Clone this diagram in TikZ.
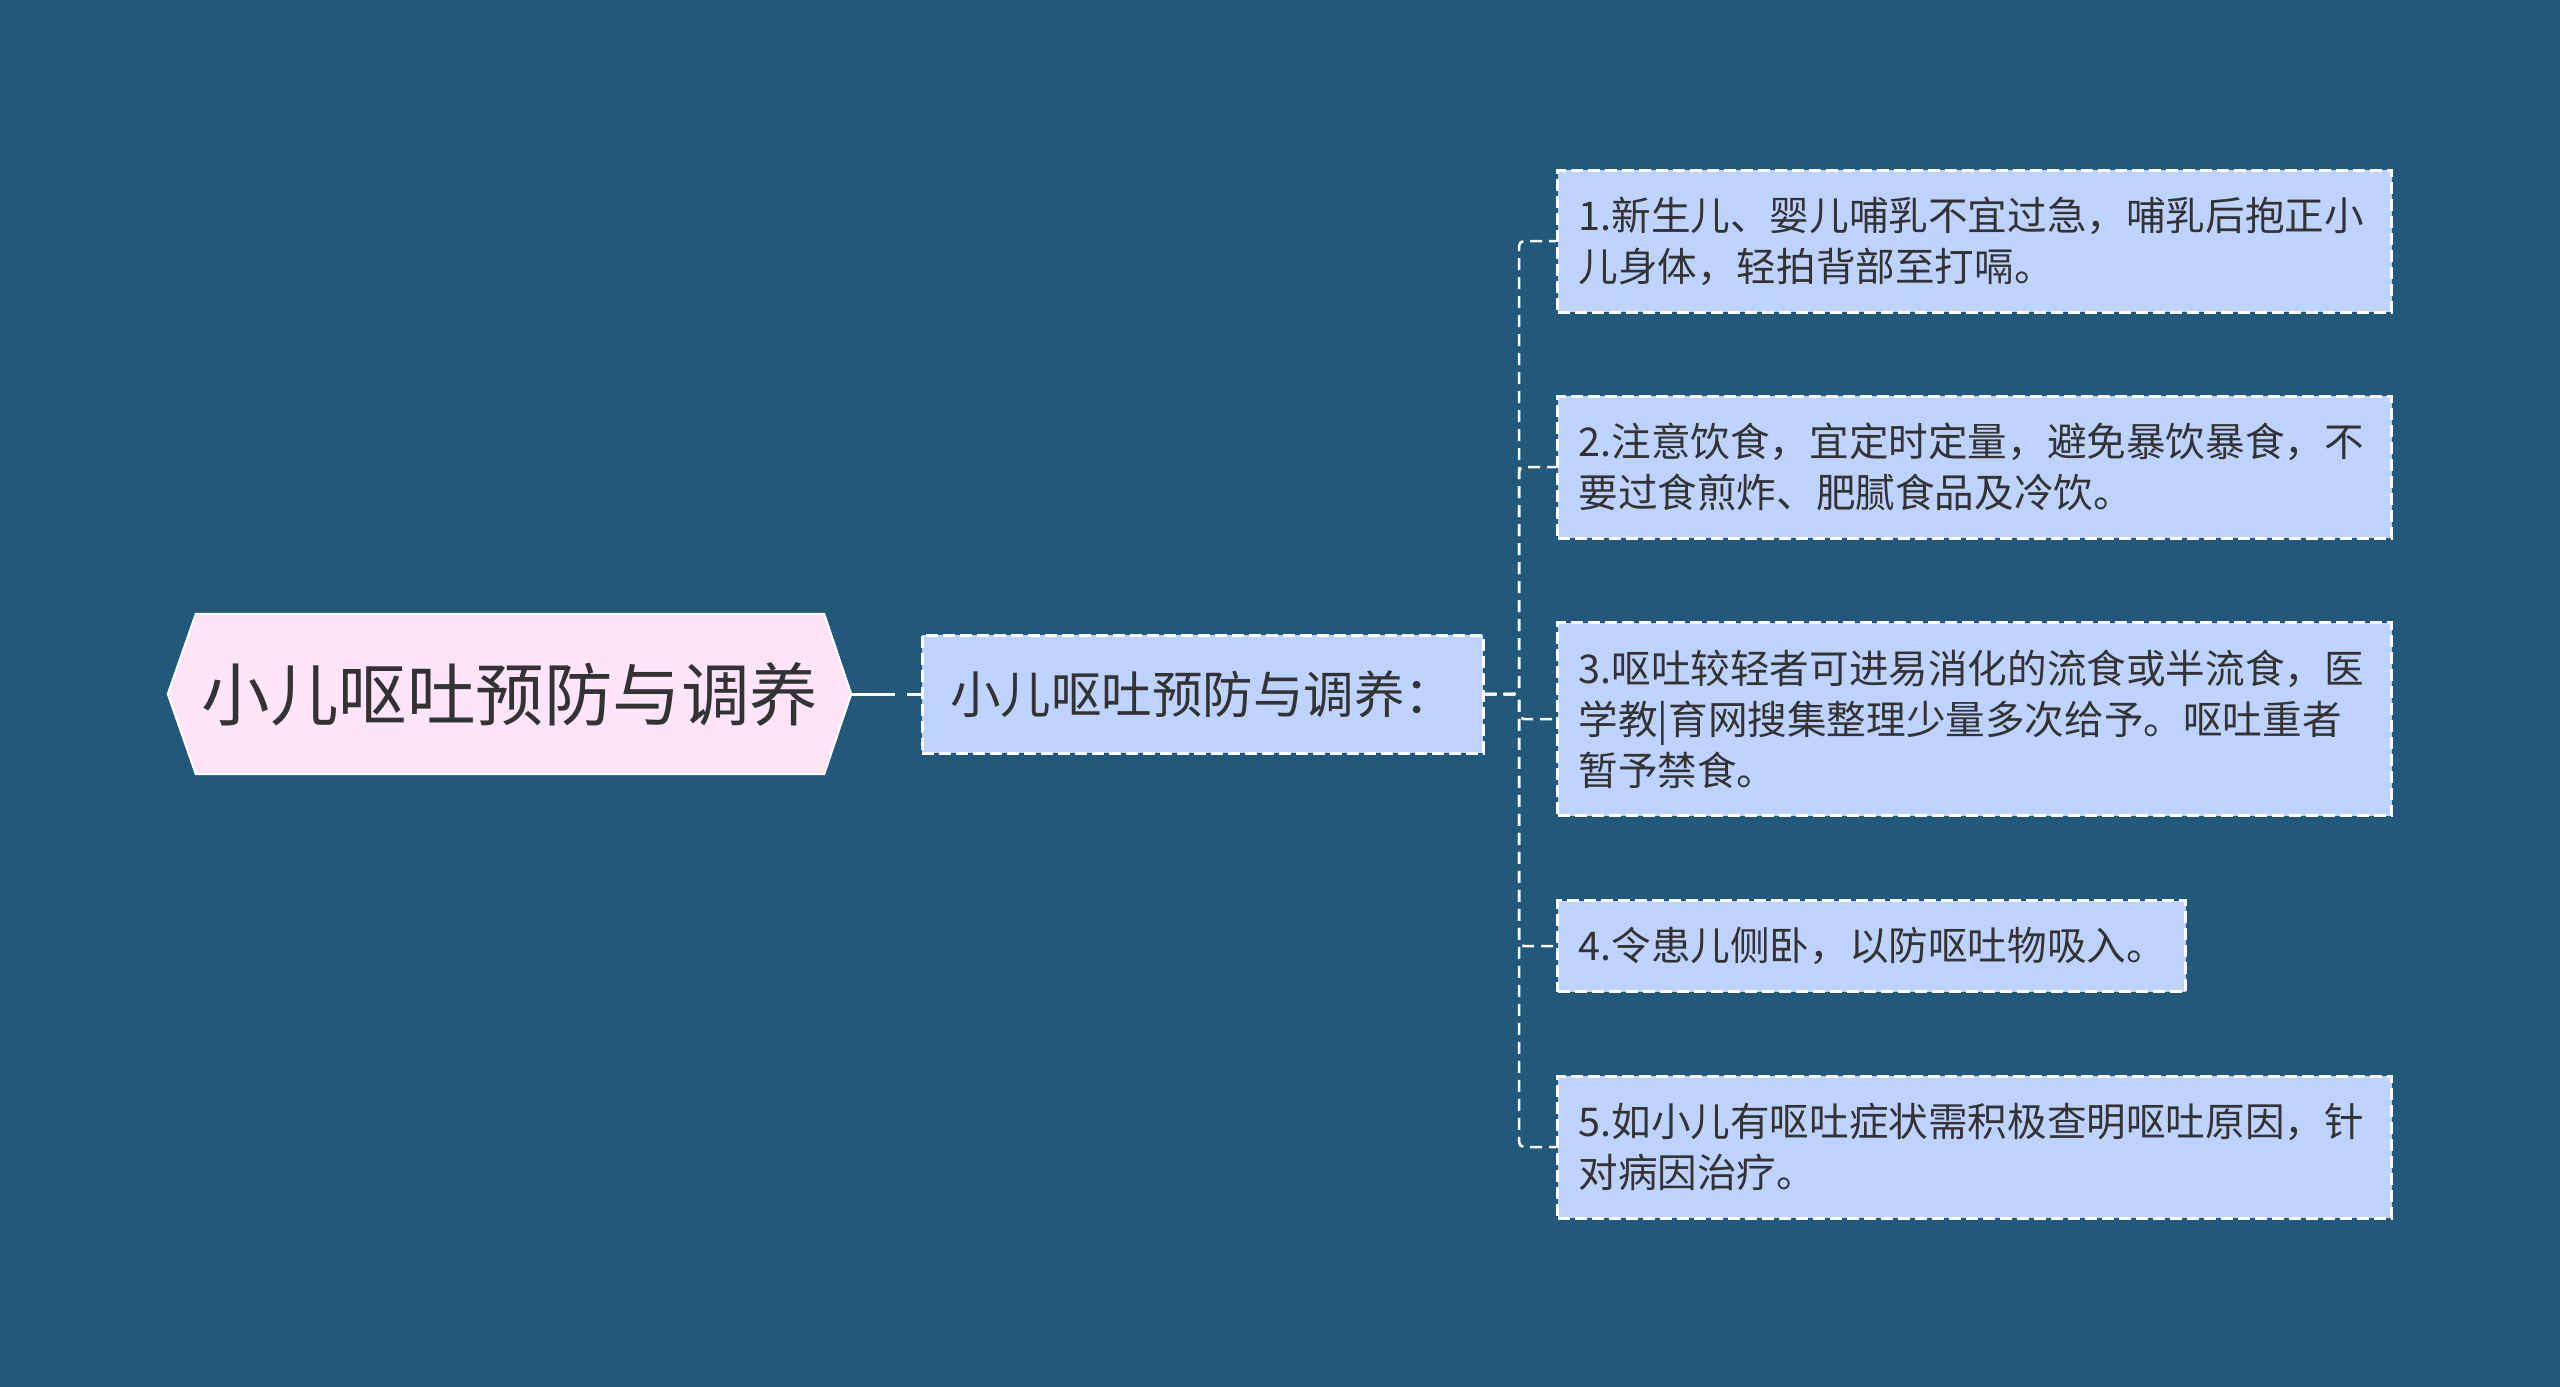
\documentclass[tikz,border=0pt]{standalone}
\usepackage{fontspec}
\newfontfamily\cjk{Noto Sans CJK SC}
\usetikzlibrary{backgrounds}
\definecolor{bg}{HTML}{22587A}
\definecolor{leaffill}{HTML}{BED3FF}
\definecolor{rootfill}{HTML}{FFE4FA}
\definecolor{txt}{HTML}{333333}
\tikzset{
  rootn/.style={draw=none, fill=none, minimum width=628pt, minimum height=160pt, inner sep=0pt,
    text=txt, font={\cjk\fontsize{68.5pt}{80pt}\selectfont}},
  hexa/.style={fill=rootfill, draw=white, line width=2pt},
  subn/.style={draw=white, line width=3pt, dash pattern=on 12pt off 5pt, fill=leaffill,
    minimum width=561pt, minimum height=118pt, inner sep=0pt,
    text=txt, font={\cjk\fontsize{50.5pt}{60pt}\selectfont}},
  leafn/.style={draw=white, line width=3pt, dash pattern=on 12pt off 5pt, fill=leaffill,
    anchor=west, inner xsep=21pt, inner ysep=0pt, align=left,
    text=txt, font={\cjk\fontsize{39.6pt}{51pt}\selectfont}},
  conn/.style={draw=white, line width=2.5pt, dash pattern=on 12pt off 7pt, rounded corners=5pt},
  conn0/.style={draw=white, line width=3pt, dash pattern=on 44pt off 12pt}
}
\begin{document}
\begin{tikzpicture}[x=1pt,y=-1pt]
\node[rootn] (root) at (510,694) {小儿呕吐预防与调养};
\begin{scope}[on background layer]
\fill[bg] (0,0) rectangle (2560,1387);
\draw[hexa] (root.north west) -- (root.north east) -- ([xshift=27pt]root.east)
  -- (root.south east) -- (root.south west) -- ([xshift=-28pt]root.west) -- cycle;
\end{scope}
\coordinate (rtip) at ([xshift=27pt]root.east);
\node[subn] (sub) at (1202.5,694) {小儿呕吐预防与调养：};
\node[leafn, text width=792pt, minimum height=142pt] (l1) at (1556,241)
  {1.新生儿、婴儿哺乳不宜过急，哺乳后抱正小\\儿身体，轻拍背部至打嗝。};
\node[leafn, text width=792pt, minimum height=142pt] (l2) at (1556,467)
  {2.注意饮食，宜定时定量，避免暴饮暴食，不\\要过食煎炸、肥腻食品及冷饮。};
\node[leafn, text width=792pt, minimum height=193pt] (l3) at (1556,719)
  {3.呕吐较轻者可进易消化的流食或半流食，医\\学教|育网搜集整理少量多次给予。呕吐重者\\暂予禁食。};
\node[leafn, text width=586pt, minimum height=91pt] (l4) at (1556,946)
  {4.令患儿侧卧，以防呕吐物吸入。};
\node[leafn, text width=792pt, minimum height=142pt] (l5) at (1556,1147)
  {5.如小儿有呕吐症状需积极查明呕吐原因，针\\对病因治疗。};
\draw[conn0] (rtip) -- (sub.west);
\coordinate (tr) at (1519,694);
\draw[conn] (sub.east) -- (tr) |- (l1.west);
\draw[conn] (sub.east) -- (tr) |- (l2.west);
\draw[conn] (sub.east) -- (tr) |- (l3.west);
\draw[conn] (sub.east) -- (tr) |- (l4.west);
\draw[conn] (sub.east) -- (tr) |- (l5.west);
\end{tikzpicture}
\end{document}
